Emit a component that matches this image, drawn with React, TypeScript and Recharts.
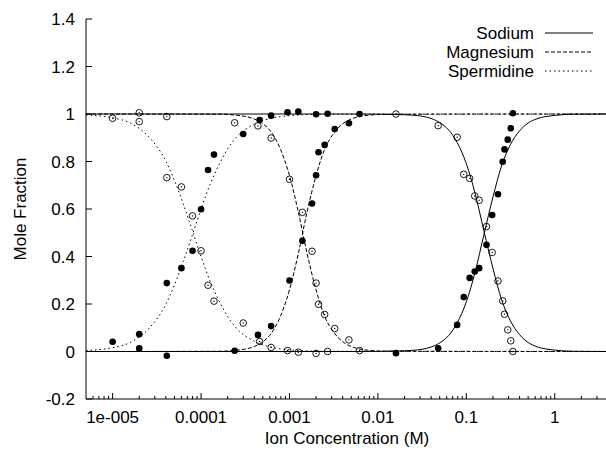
import { ComposedChart, Line, Scatter, XAxis, YAxis, Legend } from 'recharts';

const FONT = '"Liberation Sans", Arial, Helvetica, sans-serif';

// axis ticks
const xMajorTicks = [1e-5, 1e-4, 1e-3, 1e-2, 1e-1, 1];
const xTickLabels = ['1e-005', '0.0001', '0.001', '0.01', '0.1', '1'];
const xMinorTicks = [
  6e-6, 7e-6, 8e-6, 9e-6,
  2e-5, 3e-5, 4e-5, 5e-5, 6e-5, 7e-5, 8e-5, 9e-5,
  2e-4, 3e-4, 4e-4, 5e-4, 6e-4, 7e-4, 8e-4, 9e-4,
  2e-3, 3e-3, 4e-3, 5e-3, 6e-3, 7e-3, 8e-3, 9e-3,
  2e-2, 3e-2, 4e-2, 5e-2, 6e-2, 7e-2, 8e-2, 9e-2,
  0.2, 0.3, 0.4, 0.5, 0.6, 0.7, 0.8, 0.9,
  2, 3,
];
const yTicks = [-0.2, 0, 0.2, 0.4, 0.6, 0.8, 1, 1.2, 1.4];
const yTickLabels = ['-0.2', '0', '0.2', '0.4', '0.6', '0.8', '1', '1.2', '1.4'];

// fitted curves
const spdCurveX = [5e-6, 1e-5, 1.6e-5, 2.5e-5, 4e-5, 5e-5, 6.3e-5, 8e-5, 1e-4, 1.26e-4, 1.6e-4, 2e-4, 2.5e-4, 4e-4, 6.3e-4, 1e-3, 2.5e-3, 4];
const spdCurveUp = [0.004, 0.016, 0.039, 0.092, 0.199, 0.28, 0.379, 0.492, 0.6, 0.702, 0.787, 0.853, 0.901, 0.957, 0.982, 0.993, 0.999, 1];
const spdCurveDown = [0.996, 0.984, 0.961, 0.908, 0.801, 0.72, 0.621, 0.508, 0.4, 0.298, 0.213, 0.147, 0.099, 0.043, 0.018, 0.007, 0.001, 0];

const mgCurveX = [5e-6, 1.6e-4, 2.5e-4, 4e-4, 5e-4, 6.3e-4, 7.9e-4, 1e-3, 1.26e-3, 1.58e-3, 2e-3, 2.5e-3, 3.2e-3, 4e-3, 5e-3, 7.9e-3, 1.26e-2, 4];
const mgCurveUp = [0, 0.001, 0.005, 0.021, 0.041, 0.079, 0.148, 0.259, 0.413, 0.587, 0.741, 0.852, 0.921, 0.959, 0.979, 0.995, 0.999, 1];
const mgCurveDown = [1, 0.999, 0.995, 0.979, 0.959, 0.921, 0.852, 0.741, 0.587, 0.413, 0.259, 0.148, 0.079, 0.041, 0.021, 0.005, 0.001, 0];

const naCurveX = [5e-6, 6.3e-3, 1.58e-2, 2.5e-2, 4e-2, 5e-2, 6.3e-2, 7.9e-2, 0.1, 0.126, 0.158, 0.2, 0.25, 0.316, 0.4, 0.5, 0.63, 1, 1.58, 4];
const naCurveUp = [0, 0, 0.002, 0.005, 0.019, 0.036, 0.067, 0.121, 0.209, 0.336, 0.492, 0.65, 0.781, 0.872, 0.929, 0.962, 0.98, 0.994, 0.999, 1];
const naCurveDown = [1, 1, 0.998, 0.995, 0.981, 0.964, 0.933, 0.879, 0.791, 0.664, 0.508, 0.35, 0.219, 0.128, 0.071, 0.038, 0.02, 0.006, 0.001, 0];

// measured points
const spdX = [1e-5, 2e-5, 2e-5, 4.1e-5, 4.1e-5, 6e-5, 8e-5, 1e-4, 1.2e-4, 1.4e-4, 3e-4, 4.6e-4, 6.2e-4, 9.5e-4, 1.26e-3, 2e-3, 2.7e-3];
const spdFilled = [0.041, 0.073, 0.013, 0.288, -0.018, 0.351, 0.424, 0.599, 0.764, 0.829, 0.916, 0.975, 0.993, 1.007, 1.01, 0.999, 1.001];
const spdOpen = [0.982, 0.968, 1.005, 0.732, 0.989, 0.693, 0.571, 0.424, 0.279, 0.212, 0.12, 0.042, 0.017, 0.004, -0.003, -0.008, 0];

const mgX = [2.4e-4, 4.4e-4, 6.2e-4, 1e-3, 1.4e-3, 1.8e-3, 2e-3, 2.13e-3, 2.5e-3, 3.25e-3, 4.7e-3, 6.2e-3];
const mgFilled = [0.003, 0.07, 0.107, 0.299, 0.466, 0.623, 0.742, 0.839, 0.87, 0.937, 0.961, 1];
const mgOpen = [0.963, 0.95, 0.899, 0.725, 0.586, 0.422, 0.288, 0.199, 0.156, 0.097, 0.049, 0.004];

const naX = [0.016, 0.048, 0.0787, 0.0935, 0.109, 0.1245, 0.1396, 0.169, 0.196, 0.228, 0.258, 0.27, 0.294, 0.318, 0.336];
const naFilled = [-0.007, 0.014, 0.112, 0.229, 0.31, 0.337, 0.351, 0.449, 0.575, 0.662, 0.799, 0.851, 0.892, 0.94, 1.003];
const naOpen = [1, 0.951, 0.902, 0.746, 0.729, 0.655, 0.637, 0.526, 0.417, 0.297, 0.213, 0.157, 0.091, 0.045, 0];

const legendNames = ['Sodium', 'Magnesium', 'Spermidine'];
const legendDash = [undefined, '4 2', '1.5 3'];

const zip = (xs: number[], ys: number[]) => xs.map((x, i) => ({ x, y: ys[i] }));

const curves = [
  { data: zip(naCurveX, naCurveUp), dash: undefined },
  { data: zip(naCurveX, naCurveDown), dash: undefined },
  { data: zip(mgCurveX, mgCurveUp), dash: '4 2' },
  { data: zip(mgCurveX, mgCurveDown), dash: '4 2' },
  { data: zip(spdCurveX, spdCurveUp), dash: '1.5 3' },
  { data: zip(spdCurveX, spdCurveDown), dash: '1.5 3' },
];

const filledPts = [...zip(spdX, spdFilled), ...zip(mgX, mgFilled), ...zip(naX, naFilled)];
const openPts = [...zip(spdX, spdOpen), ...zip(mgX, mgOpen), ...zip(naX, naOpen)];

const txt = { fontFamily: FONT, fontSize: 17, fill: '#000' };

const BottomTick = (p: any) => {
  const i = xMajorTicks.indexOf(p.payload.value);
  const len = i >= 0 ? 6 : 3;
  return (
    <g>
      <line x1={p.x} x2={p.x} y1={p.y} y2={p.y - len} stroke="#000" />
      {i >= 0 && (
        <text x={p.x} y={p.y + 24} textAnchor="middle" style={txt}>
          {xTickLabels[i]}
        </text>
      )}
    </g>
  );
};

const TopTick = (p: any) => {
  const len = xMajorTicks.includes(p.payload.value) ? 6 : 3;
  return <line x1={p.x} x2={p.x} y1={p.y} y2={p.y + len} stroke="#000" />;
};

const LeftTick = (p: any) => {
  const i = yTicks.indexOf(p.payload.value);
  return (
    <g>
      <line x1={p.x} x2={p.x + 6} y1={p.y} y2={p.y} stroke="#000" />
      <text x={p.x - 11} y={p.y + 6} textAnchor="end" style={txt}>
        {yTickLabels[i]}
      </text>
    </g>
  );
};

const FilledDot = (p: any) => <circle cx={p.cx} cy={p.cy} r={3.3} fill="#000" />;
const OpenDot = (p: any) => (
  <g>
    <circle cx={p.cx} cy={p.cy} r={3.3} fill="none" stroke="#000" strokeWidth={0.9} />
    <circle cx={p.cx} cy={p.cy} r={0.7} fill="#000" />
  </g>
);

const KeyBox = () => (
  <svg width={606} height={90} style={{ display: 'block' }}>
    {legendNames.map((name, i) => (
      <g key={name}>
        <text x={534} y={39 + i * 19} textAnchor="end" style={txt}>
          {name}
        </text>
        <line x1={545} x2={593} y1={33 + i * 19} y2={33 + i * 19} stroke="#000" strokeDasharray={legendDash[i]} />
      </g>
    ))}
  </svg>
);

export default function App() {
  return (
    <div style={{ position: 'fixed', left: 0, top: 0, width: 606, height: 453, overflow: 'hidden', background: '#fff' }}>
      <ComposedChart width={620} height={453} margin={{ top: 19, right: 12, bottom: 0, left: 0 }}>
        <XAxis
          dataKey="x"
          type="number"
          scale="log"
          domain={[5e-6, 4]}
          allowDataOverflow
          ticks={[...xMajorTicks, ...xMinorTicks]}
          interval={0}
          height={54}
          tickSize={0}
          tickMargin={0}
          tick={BottomTick}
          tickLine={false}
          axisLine={{ stroke: '#000' }}
          label={{ value: 'Ion Concentration (M)', position: 'insideBottom', offset: 9, style: txt }}
        />
        <XAxis
          xAxisId="top"
          orientation="top"
          type="number"
          scale="log"
          domain={[5e-6, 4]}
          allowDataOverflow
          ticks={[...xMajorTicks, ...xMinorTicks]}
          interval={0}
          height={0}
          tickSize={0}
          tickMargin={0}
          tick={TopTick}
          tickLine={false}
          axisLine={{ stroke: '#000' }}
        />
        <YAxis
          dataKey="y"
          type="number"
          domain={[-0.2, 1.4]}
          allowDataOverflow
          ticks={yTicks}
          interval={0}
          width={86}
          tickSize={0}
          tickMargin={0}
          tick={LeftTick}
          tickLine={false}
          axisLine={{ stroke: '#000' }}
          label={{ value: 'Mole Fraction', angle: -90, position: 'insideLeft', offset: 20, style: { ...txt, textAnchor: 'middle' } }}
        />
        <Legend
          layout="horizontal"
          verticalAlign="middle"
          align="center"
          wrapperStyle={{ left: 0, top: 0, width: 606, height: 90 }}
          content={() => <KeyBox />}
        />
        {curves.map((c, i) => (
          <Line
            key={i}
            data={c.data}
            dataKey="y"
            type="monotone"
            stroke="#000"
            strokeWidth={1}
            strokeDasharray={c.dash}
            dot={false}
            activeDot={false}
            isAnimationActive={false}
          />
        ))}
        <Scatter data={filledPts} dataKey="y" shape={FilledDot} isAnimationActive={false} />
        <Scatter data={openPts} dataKey="y" shape={OpenDot} isAnimationActive={false} />
      </ComposedChart>
    </div>
  );
}
